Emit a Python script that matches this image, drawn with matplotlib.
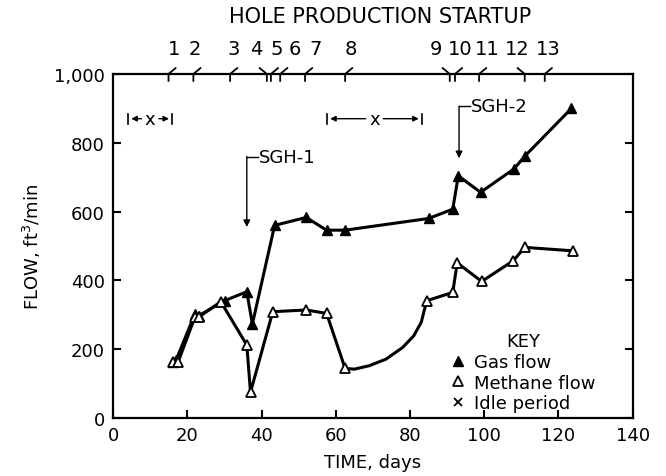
import matplotlib.pyplot as plt
from matplotlib.lines import Line2D

# gas flow (filled triangles)
gas_days = [16, 17, 22, 23, 30, 36, 37.5, 43.5, 52, 57.5, 62.5, 85, 91.5, 93, 99, 108, 111, 123.5]
gas_flow = [163, 170, 302, 297, 341, 367, 273, 560, 583, 546, 546, 580, 607, 704, 656, 724, 762, 900]

# methane flow (open triangles)
meth_days = [16, 17.5, 22, 23, 29, 36, 37, 43, 52, 57.5, 62.5, 84.5, 91.5, 92.7, 99.3, 107.8, 110.9, 123.8]
meth_flow = [163, 163, 293, 293, 338, 212, 75, 309, 314, 304, 144, 341, 365, 451, 397, 457, 496, 486]

# hand drawn trace between 62.5 and 84.5 days
curve_days = [62.5, 65, 69, 73.5, 78, 81, 83, 84.5]
curve_flow = [144, 142, 152, 171, 205, 239, 278, 341]

# hole production startup
hole_labels = ["1", "2", "3", "4", "5", "6", "7", "8", "9", "10", "11", "12", "13"]
hole_days = [14.9, 21.6, 31.5, 41.4, 42.5, 45.0, 51.7, 62.5, 90.7, 92.1, 98.6, 110.9, 116.3]
hole_label_days = [16.5, 21.9, 32.4, 38.6, 44.2, 49.0, 54.4, 64.0, 87.1, 93.5, 100.9, 108.9, 117.3]
hole_lean_left = ["4", "9", "12"]

# idle periods (start, end)
idle = [(4.1, 15.8), (57.7, 83.1)]

fig = plt.figure(figsize=(6.66, 4.77), dpi=100)
ax = fig.add_axes([0.170, 0.1216, 0.780, 0.7212])

# methane line: measured points before the trace, trace, then the rest
i_split = meth_days.index(62.5)
line_x = meth_days[:i_split] + curve_days + meth_days[i_split + 1:]
line_y = meth_flow[:i_split] + curve_flow + meth_flow[i_split + 1:]
ax.plot(line_x, line_y, color="black", lw=2.2, zorder=2)
ax.plot(meth_days, meth_flow, ls="none", marker="^", ms=7, mfc="white",
        mec="black", mew=1.3, zorder=4)

ax.plot(gas_days, gas_flow, color="black", lw=2.2, marker="^", ms=7,
        mfc="black", mec="black", zorder=3)

ax.set_xlim(0, 140)
ax.set_ylim(0, 1000)
ax.set_xticks(range(0, 141, 20))
ax.set_yticks(range(0, 1001, 200))
ax.set_yticklabels(["0", "200", "400", "600", "800", "1,000"])
ax.tick_params(direction="in", length=6, width=1.5, labelsize=13, pad=6,
               right=True, top=False)
for s in ax.spines.values():
    s.set_linewidth(1.6)

ax.set_xlabel("TIME, days", fontsize=13, labelpad=6)
ax.set_ylabel(r"FLOW, ft$^3$/min", fontsize=13, labelpad=8)

# hole startup ticks on top axis
for lab, d in zip(hole_labels, hole_days):
    dx = -1.9 if lab in hole_lean_left else 1.9
    ax.plot([d, d, d + dx], [980, 1000, 1017], color="black", lw=1.3,
            clip_on=False)
for lab, d in zip(hole_labels, hole_label_days):
    ax.text(d, 1075, lab, ha="center", va="center", fontsize=14,
            clip_on=False)
ax.text(72, 1170, "HOLE PRODUCTION STARTUP", ha="center", va="center",
        fontsize=15, clip_on=False)

# idle period markers
for a, b in idle:
    mid = (a + b) / 2
    ax.text(mid, 870, "x", ha="center", va="center", fontsize=13)
    gap = 1.6
    ax.annotate("", xy=(a, 870), xytext=(mid - gap, 870),
                arrowprops=dict(arrowstyle="-|>", color="black", lw=1.0,
                                mutation_scale=8))
    ax.annotate("", xy=(b, 870), xytext=(mid + gap, 870),
                arrowprops=dict(arrowstyle="-|>", color="black", lw=1.0,
                                mutation_scale=8))
    ax.plot([a, a], [855, 885], color="black", lw=1.2)
    ax.plot([b, b], [855, 885], color="black", lw=1.2)

# SGH-1 and SGH-2 arrows
for name, d, top, tip in [("SGH-1", 36.0, 760, 555), ("SGH-2", 93.2, 906, 755)]:
    ax.plot([d + 3.0, d], [top, top], color="black", lw=1.0)
    ax.annotate("", xy=(d, tip), xytext=(d, top),
                arrowprops=dict(arrowstyle="-|>", color="black", lw=1.0,
                                mutation_scale=10, shrinkA=0, shrinkB=0))
    ax.text(d + 3.2, top, name, ha="left", va="center", fontsize=13)

handles = [
    Line2D([], [], ls="none", marker="^", ms=7, mfc="black", mec="black"),
    Line2D([], [], ls="none", marker="^", ms=7, mfc="white", mec="black", mew=1.3),
    Line2D([], [], ls="none", marker="x", ms=6, color="black", mew=1.3),
]
leg = ax.legend(handles, ["Gas flow", "Methane flow", "Idle period"],
                title="KEY", loc="lower left", bbox_to_anchor=(0.625, -0.02),
                frameon=False, fontsize=13, title_fontsize=13,
                handlelength=0.8, handletextpad=0.5, labelspacing=0.15,
                borderaxespad=0.3)

plt.savefig("out.png", dpi=100)
